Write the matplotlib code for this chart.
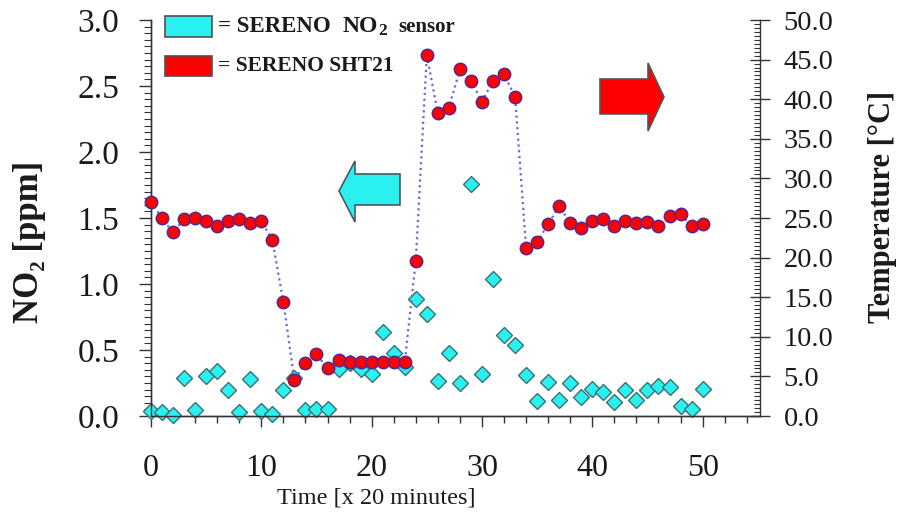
import matplotlib
matplotlib.use("Agg")
import matplotlib.pyplot as plt
from matplotlib.patches import Polygon, Rectangle
from matplotlib.ticker import MultipleLocator, FormatStrFormatter

# ---------------- data ----------------
time_steps = list(range(51))
no2_ppm = [0.04, 0.033, 0.008, 0.29, 0.045, 0.30, 0.34, 0.20, 0.028, 0.28,
           0.04, 0.015, 0.20, 0.285, 0.045, 0.05, 0.05, 0.356, 0.40, 0.356,
           0.32, 0.634, 0.48, 0.374, 0.886, 0.77, 0.265, 0.475, 0.248, 1.755,
           0.316, 1.04, 0.614, 0.538, 0.31, 0.114, 0.255, 0.121, 0.248, 0.142,
           0.205, 0.18, 0.104, 0.197, 0.121, 0.197, 0.23, 0.222, 0.078, 0.053,
           0.205]
temp_c = [27.06, 24.96, 23.19, 24.87, 24.96, 24.62, 24.03, 24.62, 24.83, 24.33,
          24.62, 22.22, 14.36, 4.55, 6.73, 7.79, 6.02, 7.07, 6.86, 6.78,
          6.86, 6.86, 6.78, 6.86, 19.61, 45.58, 38.22, 38.93, 43.77, 42.34,
          39.69, 42.34, 43.14, 40.32, 21.25, 21.93, 24.24, 26.52, 24.33, 23.78,
          24.62, 24.87, 24.03, 24.62, 24.33, 24.53, 24.03, 25.29, 25.47, 24.03,
          24.2]
x_ticks = [0, 10, 20, 30, 40, 50]
left_ticks = [0.0, 0.5, 1.0, 1.5, 2.0, 2.5, 3.0]
right_ticks = [0, 5, 10, 15, 20, 25, 30, 35, 40, 45, 50]

legend_no2_parts = ["= SERENO", "NO", "2", "sensor"]
legend_sht = "= SERENO SHT21"
ylabel_left = "NO\u2082 [ppm]"
ylabel_right = "Temperature [\u00b0C]"
xlabel = "Time [x 20 minutes]"

SERIF = ["Liberation Serif", "DejaVu Serif"]
plt.rcParams["font.family"] = SERIF

W, H = 904, 519
fig = plt.figure(figsize=(W / 100, H / 100), dpi=100)

# axes box in pixels: left 151, right 760, top 20, bottom 416
L, R, T, B = 151, 760, 20, 416
ax = fig.add_axes([L / W, (H - B) / H, (R - L) / W, (B - T) / H])
ax2 = ax.twinx()

TXT = "#1a1a1a"
# NO2 diamonds (left axis)
ax.plot(time_steps, no2_ppm, linestyle="none", marker="D", markersize=8,
        markerfacecolor="#2af0f0", markeredgecolor="#3a7070", markeredgewidth=1.0,
        zorder=3, clip_on=False)

# temperature circles (right axis)
ax2.plot(time_steps, temp_c, linestyle=(0, (1, 1.6)), color="#6a6ad0", linewidth=1.6,
         marker="o", markersize=9, markerfacecolor="#ff0000",
         markeredgecolor="#4a2a9a", markeredgewidth=1.0, zorder=4, clip_on=False)

ax.set_xlim(0, 55.2)
ax.set_ylim(0, 3.0)
ax2.set_ylim(0, 50)

ax.set_xticks(x_ticks)
ax.xaxis.set_minor_locator(MultipleLocator(2))
ax.set_yticks(left_ticks)
ax.yaxis.set_minor_locator(MultipleLocator(0.05))
ax.yaxis.set_major_formatter(FormatStrFormatter("%.1f"))
ax2.set_yticks(right_ticks)
ax2.yaxis.set_minor_locator(MultipleLocator(0.5))
ax2.yaxis.set_major_formatter(FormatStrFormatter("%.1f"))

for a in (ax, ax2):
    a.spines["top"].set_visible(False)
    for s in a.spines.values():
        s.set_color("#333333")
        s.set_linewidth(1.0)
ax.spines["right"].set_visible(False)

ax.tick_params(axis="x", which="major", direction="out", length=8, width=1,
               pad=19, labelsize=23, colors="#333333", labelcolor=TXT)
ax.tick_params(axis="x", which="minor", direction="out", length=5, width=1, colors="#333333")
ax.tick_params(axis="y", which="major", direction="out", length=9, width=1,
               pad=14, labelsize=24, colors="#333333", labelcolor=TXT)
ax.tick_params(axis="y", which="minor", direction="out", length=5, width=0.8, colors="#333333")
ax2.tick_params(axis="y", which="major", direction="inout", length=14, width=1,
                pad=10, labelsize=20.5, colors="#333333", labelcolor=TXT)
ax2.tick_params(axis="y", which="minor", direction="in", length=4, width=0.8, colors="#333333")

# axis labels
fig.text(30 / W, 1 - 242 / H, ylabel_left, rotation=90, ha="center", va="center",
         fontsize=25, fontweight="bold", color=TXT)
fig.text(883 / W, 1 - 207 / H, ylabel_right, rotation=90, ha="center", va="center",
         fontsize=22, fontweight="bold", color=TXT)
fig.text(376 / W, 1 - 498 / H, xlabel, ha="center", va="center", fontsize=17.5, color=TXT)


def pax(px, py):
    return ((px - L) / (R - L), (B - py) / (B - T))


# legend boxes
for (y0, y1, col) in [(16, 37, "#2af0f0"), (56, 76, "#ff0000")]:
    x0, yb = pax(165, y1)
    x1, yt = pax(212, y0)
    ax.add_patch(Rectangle((x0, yb), x1 - x0, yt - yb, transform=ax.transAxes,
                           facecolor=col, edgecolor="#505050", linewidth=1.2,
                           clip_on=False, zorder=5))

# first legend line, built from pieces to mimic the spacing of the original
parts_pos = [(218, 26.5, 16.5, "bold"), (343, 26.5, 17, "bold"),
             (378, 31, 12.5, "bold"), (398, 26.5, 15, "semibold")]
for text, (px, py, fs, fw) in zip(legend_no2_parts, parts_pos):
    tx, ty = pax(px, py)
    ax.text(tx, ty, text, transform=ax.transAxes, ha="left", va="center",
            fontsize=fs, fontweight=fw, color=TXT, zorder=5)
tx, ty = pax(218, 66)
ax.text(tx, ty, legend_sht, transform=ax.transAxes, ha="left", va="center",
        fontsize=15.5, fontweight="bold", color=TXT, zorder=5)

# direction arrows
cyan_arrow = [(339, 191), (355, 161), (355, 174), (400, 174), (400, 205), (355, 205), (355, 222)]
red_arrow = [(600, 79), (648, 79), (648, 63), (664, 97), (648, 131), (648, 114), (600, 114)]
for pts, col in [(cyan_arrow, "#2af0f0"), (red_arrow, "#ff0000")]:
    ax.add_patch(Polygon([pax(*p) for p in pts], closed=True, transform=ax.transAxes,
                         facecolor=col, edgecolor="#4a5a5a", linewidth=1.2,
                         clip_on=False, zorder=5))

fig.savefig("out.png", dpi=100)
